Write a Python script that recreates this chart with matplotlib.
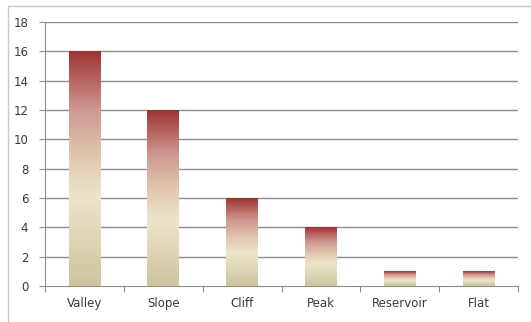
import numpy as np
import matplotlib.pyplot as plt
from matplotlib.colors import LinearSegmentedColormap
from matplotlib.patches import Rectangle

categories = ['Valley', 'Slope', 'Cliff', 'Peak', 'Reservoir', 'Flat']
counts = [16, 12, 6, 4, 1, 1]
yticks = [0, 2, 4, 6, 8, 10, 12, 14, 16, 18]

# bottom -> top colour ramp used inside each bar
ramp = LinearSegmentedColormap.from_list(
    'bar_ramp',
    [(0.0, '#cdc49e'), (0.38, '#ece5ca'), (0.55, '#e0c8ae'),
     (0.75, '#cf9890'), (1.0, '#9e3434')])

fig = plt.figure(figsize=(5.31, 3.22), dpi=100)
fig.patch.set_facecolor('white')

# outer chart frame (left and top edges show)
fig.add_artist(Rectangle((8 / 531, -0.05), 1.1, 1.05 - 6 / 322,
                         transform=fig.transFigure, fill=False,
                         edgecolor='#c8c8c8', linewidth=1.0))

ax = fig.add_axes([45 / 531, 36 / 322, 473 / 531, 264 / 322])

grad = np.linspace(0, 1, 256).reshape(-1, 1)
width = 0.4
for i, v in enumerate(counts):
    x0 = i + 0.5 - width / 2
    ax.imshow(grad, cmap=ramp, origin='lower', aspect='auto',
              extent=[x0, x0 + width, 0, v], zorder=3, interpolation='bilinear')

ax.set_xlim(0, len(categories))
ax.set_ylim(0, 18)

for y in yticks[1:]:
    ax.axhline(y, color='#8e8e8e', linewidth=1.0, zorder=1)

for s in ['top', 'right']:
    ax.spines[s].set_visible(False)
ax.spines['left'].set_color('#8e8e8e')
ax.spines['bottom'].set_color('#8e8e8e')

ax.set_yticks(yticks)
ax.set_yticklabels([str(t) for t in yticks])
ax.set_xticks(np.arange(len(categories) + 1))
ax.set_xticklabels([])
ax.set_xticks(np.arange(len(categories)) + 0.5, minor=True)
ax.set_xticklabels(categories, minor=True)
ax.tick_params(axis='x', which='major', length=4, color='#8e8e8e', direction='out')
ax.tick_params(axis='x', which='minor', length=0, pad=8, labelsize=8.5, labelcolor='#3a3a3a')
ax.tick_params(axis='y', length=4, color='#8e8e8e', pad=8, labelsize=8.5, labelcolor='#3a3a3a')

fig.savefig('out.png', dpi=100, facecolor='white')
